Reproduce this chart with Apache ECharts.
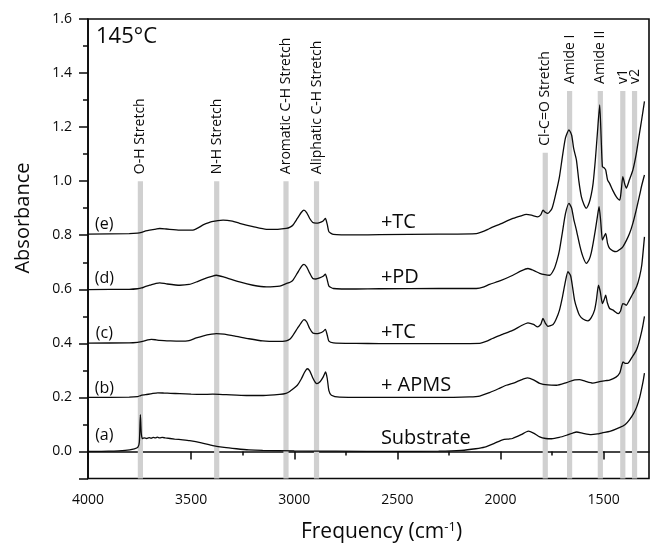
<!DOCTYPE html>
<html><head><meta charset="utf-8">
<script src="https://cdn.jsdelivr.net/npm/echarts@6/dist/echarts.min.js"></script>
<style>html,body{margin:0;padding:0;background:#fff}#c{width:651px;height:548px}</style>
</head><body><div id="c"></div>
<script>
// ---- data ----
const xMajorTicks = [4000, 3500, 3000, 2500, 2000, 1500];
const xMinorTicks = [3750, 3250, 2750, 2250, 1750];
const yMajorTicks = [-0.1, 0, 0.2, 0.4, 0.6, 0.8, 1.0, 1.2, 1.4, 1.6];
const yLabels = [0, 0.2, 0.4, 0.6, 0.8, 1.0, 1.2, 1.4, 1.6];
const yMinorTicks = [0.1, 0.3, 0.5, 0.7, 0.9, 1.1, 1.3, 1.5];

const bandFreqs = [3746, 3376, 3040, 2892, 1783, 1665, 1516, 1407, 1350];
const bandTops = [1.0, 1.0, 1.0, 1.0, 1.105, 1.334, 1.334, 1.334, 1.334];
const bandLabels = ['O-H Stretch', 'N-H Stretch', 'Aromatic C-H Stretch', 'Aliphatic C-H Stretch', 'Cl-C=O Stretch', 'Amide I', 'Amide II', 'v1', 'v2'];

const sampleTags = ['(e)', '(d)', '(c)', '(b)', '(a)'];
const sampleTagY = [0.841, 0.641, 0.437, 0.233, 0.059];
const sampleTagX = 3921;
const treatNames = ['+TC', '+PD', '+TC', '+ APMS', 'Substrate'];
const treatY = [0.849, 0.645, 0.442, 0.245, 0.047];
const treatX = 2580;

const traceA = [[4000,0.0],[3900,0.001],[3820,0.004],[3775,0.01],[3758,0.016],[3751,0.035],[3746,0.136],[3742,0.07],[3737,0.048],[3728,0.05],[3716,0.048],[3704,0.051],[3694,0.049],[3684,0.052],[3674,0.05],[3664,0.053],[3652,0.05],[3640,0.052],[3625,0.05],[3580,0.046],[3540,0.043],[3507,0.04],[3450,0.032],[3395,0.022],[3340,0.015],[3280,0.01],[3220,0.006],[3153,0.004],[3000,0.002],[2800,0.001],[2500,0.0],[2300,0.001],[2190,0.004],[2120,0.01],[2077,0.016],[2030,0.03],[1990,0.043],[1960,0.046],[1942,0.048],[1900,0.062],[1865,0.075],[1840,0.068],[1810,0.054],[1780,0.048],[1752,0.047],[1715,0.052],[1680,0.06],[1650,0.068],[1631,0.072],[1600,0.067],[1561,0.062],[1530,0.065],[1507,0.069],[1470,0.074],[1424,0.088],[1395,0.1],[1374,0.118],[1355,0.14],[1340,0.164],[1325,0.2],[1315,0.235],[1308,0.262],[1302,0.29]];

const traceB = [[4000,0.2],[3800,0.201],[3760,0.203],[3745,0.207],[3720,0.21],[3690,0.214],[3662,0.217],[3630,0.216],[3600,0.215],[3555,0.214],[3500,0.212],[3450,0.211],[3395,0.212],[3330,0.21],[3232,0.207],[3150,0.207],[3071,0.211],[3040,0.215],[3022,0.222],[3008,0.23],[2985,0.245],[2966,0.268],[2950,0.293],[2937,0.306],[2925,0.298],[2910,0.272],[2898,0.256],[2890,0.251],[2875,0.258],[2860,0.275],[2848,0.294],[2840,0.27],[2832,0.225],[2820,0.208],[2780,0.201],[2600,0.2],[2300,0.2],[2150,0.202],[2101,0.205],[2053,0.218],[2010,0.232],[1972,0.245],[1930,0.255],[1900,0.265],[1869,0.272],[1840,0.265],[1810,0.252],[1770,0.246],[1729,0.245],[1680,0.255],[1640,0.265],[1617,0.266],[1590,0.26],[1553,0.253],[1520,0.258],[1490,0.262],[1471,0.264],[1440,0.275],[1422,0.29],[1412,0.318],[1406,0.331],[1396,0.326],[1384,0.326],[1365,0.345],[1342,0.374],[1330,0.4],[1318,0.436],[1310,0.465],[1302,0.5]];

const traceC = [[4000,0.401],[3800,0.402],[3760,0.404],[3735,0.407],[3710,0.413],[3693,0.415],[3670,0.413],[3652,0.411],[3600,0.409],[3555,0.408],[3510,0.41],[3475,0.42],[3440,0.428],[3400,0.434],[3378,0.436],[3340,0.434],[3281,0.426],[3220,0.417],[3153,0.409],[3080,0.407],[3039,0.409],[3020,0.416],[3006,0.43],[2985,0.455],[2965,0.478],[2953,0.488],[2940,0.48],[2925,0.455],[2910,0.438],[2895,0.436],[2877,0.438],[2860,0.444],[2849,0.452],[2840,0.43],[2832,0.408],[2810,0.402],[2700,0.4],[2586,0.399],[2300,0.399],[2101,0.4],[2060,0.41],[2039,0.418],[1990,0.433],[1941,0.448],[1900,0.465],[1867,0.476],[1840,0.47],[1820,0.461],[1805,0.47],[1794,0.492],[1783,0.475],[1770,0.463],[1745,0.47],[1730,0.49],[1714,0.523],[1700,0.57],[1685,0.63],[1673,0.665],[1660,0.65],[1650,0.605],[1641,0.56],[1630,0.53],[1617,0.504],[1600,0.49],[1576,0.483],[1560,0.495],[1544,0.523],[1535,0.56],[1525,0.615],[1516,0.59],[1506,0.547],[1498,0.56],[1490,0.578],[1482,0.55],[1471,0.529],[1454,0.523],[1430,0.51],[1418,0.52],[1407,0.547],[1398,0.545],[1390,0.541],[1375,0.56],[1358,0.584],[1340,0.61],[1326,0.646],[1315,0.69],[1302,0.794]];

const traceD = [[4000,0.599],[3800,0.6],[3760,0.602],[3740,0.605],[3720,0.611],[3701,0.615],[3670,0.622],[3652,0.624],[3620,0.62],[3555,0.615],[3510,0.618],[3475,0.627],[3440,0.638],[3400,0.648],[3378,0.652],[3340,0.645],[3265,0.627],[3200,0.615],[3135,0.609],[3070,0.612],[3039,0.621],[3020,0.626],[3006,0.634],[2985,0.66],[2965,0.685],[2953,0.692],[2940,0.683],[2925,0.66],[2910,0.64],[2895,0.638],[2877,0.642],[2860,0.648],[2849,0.656],[2840,0.635],[2832,0.612],[2810,0.603],[2700,0.601],[2586,0.602],[2300,0.603],[2117,0.603],[2080,0.609],[2053,0.618],[2000,0.632],[1940,0.652],[1900,0.668],[1867,0.677],[1840,0.67],[1810,0.659],[1785,0.654],[1762,0.652],[1740,0.675],[1725,0.71],[1714,0.745],[1700,0.81],[1685,0.88],[1668,0.918],[1655,0.9],[1645,0.86],[1632,0.819],[1615,0.76],[1600,0.72],[1584,0.696],[1570,0.71],[1560,0.735],[1551,0.77],[1540,0.82],[1530,0.87],[1522,0.906],[1514,0.85],[1506,0.782],[1498,0.795],[1490,0.807],[1481,0.77],[1471,0.751],[1455,0.742],[1439,0.739],[1420,0.748],[1407,0.757],[1390,0.78],[1374,0.807],[1358,0.845],[1342,0.893],[1325,0.95],[1315,0.985],[1302,1.023]];

const traceE = [[4000,0.804],[3800,0.806],[3760,0.808],[3740,0.811],[3720,0.816],[3701,0.819],[3670,0.823],[3652,0.825],[3620,0.823],[3555,0.819],[3500,0.819],[3483,0.821],[3460,0.83],[3442,0.838],[3400,0.85],[3345,0.856],[3300,0.852],[3265,0.844],[3200,0.832],[3135,0.822],[3080,0.822],[3039,0.825],[3020,0.83],[3006,0.838],[2985,0.862],[2965,0.885],[2953,0.893],[2940,0.884],[2925,0.862],[2910,0.847],[2895,0.845],[2877,0.847],[2860,0.853],[2849,0.862],[2840,0.84],[2832,0.813],[2810,0.803],[2700,0.801],[2586,0.802],[2300,0.804],[2117,0.806],[2080,0.815],[2053,0.825],[2000,0.842],[1940,0.862],[1900,0.872],[1875,0.877],[1850,0.874],[1819,0.868],[1805,0.875],[1794,0.893],[1783,0.885],[1770,0.881],[1750,0.9],[1730,0.96],[1714,1.017],[1700,1.09],[1685,1.16],[1668,1.19],[1655,1.17],[1645,1.12],[1632,1.079],[1620,1.0],[1608,0.943],[1596,0.915],[1584,0.9],[1570,0.92],[1560,0.95],[1551,0.992],[1540,1.08],[1530,1.18],[1519,1.282],[1512,1.16],[1506,1.054],[1498,1.05],[1490,1.042],[1481,1.005],[1471,0.992],[1455,0.965],[1439,0.943],[1422,0.93],[1414,0.97],[1407,1.017],[1398,0.99],[1390,0.974],[1375,1.005],[1358,1.042],[1342,1.1],[1326,1.178],[1315,1.23],[1302,1.295]];

// ---- chart ----
const FONT = '"Open Sans", "Noto Sans", sans-serif';
const INK = '#0a0a0a';
const chart = echarts.init(document.getElementById('c'), null, {renderer: 'canvas'});

function lineSeries(name, data) {
  return {
    name, type: 'line', data, xAxisIndex: 0, yAxisIndex: 0,
    showSymbol: false, symbol: 'none', smooth: 0.2, z: 5, silent: true,
    lineStyle: {color: INK, width: 1.3}
  };
}

const option = {
  animation: false,
  title: {text: '145°C', left: 91, top: 21,
    textStyle: {fontFamily: FONT, fontSize: 22, fontWeight: 'normal', color: INK}},
  grid: {left: 88, right: 2, top: 19, bottom: 69.5, show: true,
    borderColor: INK, borderWidth: 1.6, backgroundColor: 'transparent'},
  xAxis: [
    {type: 'value', min: 1280, max: 4000, inverse: true, position: 'bottom',
      axisLine: {show: true, lineStyle: {color: INK, width: 1.6}},
      axisTick: {show: true, inside: false, length: 8, customValues: xMajorTicks, lineStyle: {color: INK, width: 1.5}},
      axisLabel: {show: true, customValues: xMajorTicks, margin: 15, fontFamily: FONT, fontSize: 14, color: INK,
        formatter: v => String(v)},
      splitLine: {show: false},
      name: 'Frequency (cm{sup|-1})', nameLocation: 'middle', nameGap: 42,
      nameTextStyle: {fontFamily: FONT, fontSize: 21, color: INK, padding: [0, 0, 0, 26],
        rich: {sup: {fontFamily: FONT, fontSize: 13, color: INK, verticalAlign: 'bottom', padding: [0, 0, 11, 0]}}}
    },
    {type: 'value', min: 1280, max: 4000, inverse: true, position: 'bottom',
      axisLine: {show: false},
      axisTick: {show: true, inside: false, length: 4, customValues: xMinorTicks, lineStyle: {color: INK, width: 1.5}},
      axisLabel: {show: false}, splitLine: {show: false}}
  ],
  yAxis: [
    {type: 'value', min: -0.1, max: 1.6, position: 'left',
      axisLine: {show: true, lineStyle: {color: INK, width: 1.6}},
      axisTick: {show: true, inside: false, length: 9, customValues: yMajorTicks, lineStyle: {color: INK, width: 1.5}},
      axisLabel: {show: true, customValues: yLabels, margin: 16, fontFamily: FONT, fontSize: 14, color: INK,
        formatter: v => Number(v).toFixed(1)},
      splitLine: {show: false}},
    {type: 'value', min: -0.1, max: 1.6, position: 'left',
      axisLine: {show: false},
      axisTick: {show: true, inside: false, length: 5, customValues: yMinorTicks, lineStyle: {color: INK, width: 1.5}},
      axisLabel: {show: false}, splitLine: {show: false}}
  ],
  graphic: [
    {type: 'text', x: 23, y: 218, rotation: Math.PI / 2,
      style: {text: 'Absorbance', font: '20px ' + FONT, fill: INK, textAlign: 'center', textVerticalAlign: 'middle'}}
  ],
  series: [
    {type: 'custom', name: 'bands', xAxisIndex: 0, yAxisIndex: 0, z: 1, silent: true, clip: false,
      data: bandFreqs.map((f, i) => [f, bandTops[i]]),
      renderItem: function (params, api) {
        const f = api.value(0), top = api.value(1);
        const p0 = api.coord([f, -0.1]);
        const p1 = api.coord([f, top]);
        return {type: 'group', children: [
          {type: 'rect', shape: {x: p0[0] - 2.6, y: p1[1], width: 5.2, height: p0[1] - p1[1]},
            style: {fill: '#d0d0d0'}},
          {type: 'text', x: p1[0], y: p1[1] - 7, rotation: Math.PI / 2,
            style: {text: bandLabels[params.dataIndex], font: '14px ' + FONT, fill: INK,
              textAlign: 'left', textVerticalAlign: 'middle'}}
        ]};
      }
    },
    lineSeries('e', traceE),
    lineSeries('d', traceD),
    lineSeries('c', traceC),
    lineSeries('b', traceB),
    lineSeries('a', traceA),
    {type: 'scatter', name: 'tags', symbolSize: 0, silent: true, z: 6, itemStyle: {opacity: 1},
      data: sampleTags.map((t, i) => ({name: t, value: [sampleTagX, sampleTagY[i]]})),
      label: {show: true, position: 'inside', formatter: '{b}', fontFamily: FONT, fontSize: 16, color: INK, opacity: 1}},
    {type: 'scatter', name: 'treat', symbolSize: 0, silent: true, z: 6, itemStyle: {opacity: 1},
      data: treatNames.map((t, i) => ({name: t, value: [treatX, treatY[i]]})),
      label: {show: true, position: 'right', distance: 0, align: 'left', formatter: '{b}', fontFamily: FONT, fontSize: 20, color: INK, opacity: 1}}
  ]
};
chart.setOption(option);
</script>
</body></html>
